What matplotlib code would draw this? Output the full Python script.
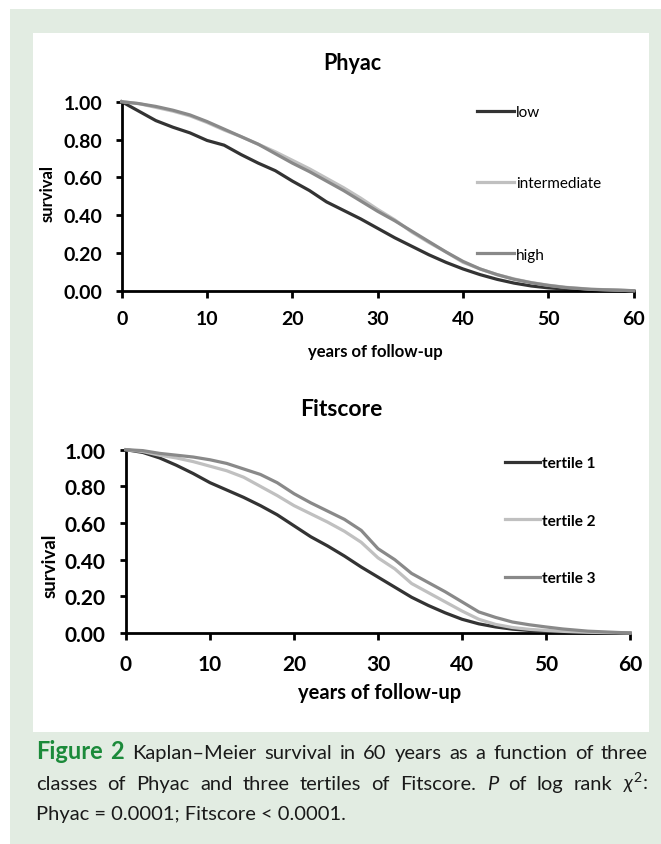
import matplotlib
matplotlib.use("Agg")
import matplotlib.pyplot as plt
from matplotlib.patches import Rectangle

plt.rcParams['font.family'] = ['Lato', 'DejaVu Sans']
plt.rcParams['mathtext.fontset'] = 'custom'
plt.rcParams['mathtext.rm'] = 'Lato'
plt.rcParams['mathtext.it'] = 'Lato:italic'

# ---- data ----
years = [0, 2, 4, 6, 8, 10, 12, 14, 16, 18, 20, 22, 24, 26, 28, 30,
         32, 34, 36, 38, 40, 42, 44, 46, 48, 50, 52, 55, 60]

phyac_labels = ['low', 'intermediate', 'high']
phyac_low = [1.00, 0.95, 0.90, 0.865, 0.835, 0.795, 0.77, 0.72, 0.675, 0.635, 0.58,
             0.53, 0.47, 0.425, 0.38, 0.33, 0.28, 0.235, 0.19, 0.15, 0.115, 0.085,
             0.06, 0.04, 0.025, 0.015, 0.009, 0.004, 0.0]
phyac_int = [1.00, 0.99, 0.97, 0.95, 0.925, 0.89, 0.85, 0.815, 0.775, 0.735, 0.69,
             0.645, 0.595, 0.545, 0.49, 0.43, 0.375, 0.31, 0.255, 0.205, 0.15, 0.115,
             0.085, 0.062, 0.043, 0.029, 0.018, 0.008, 0.0]
phyac_high = [1.00, 0.99, 0.975, 0.955, 0.93, 0.895, 0.855, 0.815, 0.775, 0.725, 0.675,
              0.63, 0.58, 0.53, 0.475, 0.42, 0.37, 0.315, 0.26, 0.205, 0.155, 0.115,
              0.085, 0.06, 0.042, 0.028, 0.017, 0.007, 0.0]

fit_labels = ['tertile 1', 'tertile 2', 'tertile 3']
fit_t1 = [1.00, 0.985, 0.955, 0.915, 0.87, 0.82, 0.78, 0.74, 0.695, 0.645, 0.585,
          0.525, 0.475, 0.42, 0.36, 0.305, 0.25, 0.195, 0.15, 0.11, 0.075, 0.05,
          0.033, 0.021, 0.014, 0.009, 0.006, 0.003, 0.0]
fit_t2 = [1.00, 0.99, 0.97, 0.955, 0.935, 0.91, 0.885, 0.85, 0.80, 0.75, 0.695,
          0.65, 0.605, 0.555, 0.495, 0.41, 0.35, 0.27, 0.22, 0.17, 0.12, 0.075,
          0.047, 0.03, 0.02, 0.014, 0.009, 0.004, 0.0]
fit_t3 = [1.00, 0.995, 0.98, 0.97, 0.96, 0.945, 0.925, 0.895, 0.865, 0.82, 0.76,
          0.71, 0.665, 0.62, 0.56, 0.46, 0.40, 0.325, 0.275, 0.225, 0.17, 0.115,
          0.085, 0.06, 0.045, 0.033, 0.022, 0.01, 0.0]

xticks = [0, 10, 20, 30, 40, 50, 60]
yticks = [0.0, 0.2, 0.4, 0.6, 0.8, 1.0]

colors = ['#333333', '#c0c0c0', '#898989']

W, H = 661, 845
fig = plt.figure(figsize=(W / 100, H / 100), dpi=100)


def fx(px):
    return px / W


def fy(py):
    return 1 - py / H


# page background: green frame with white panel
fig.patches.append(Rectangle((fx(10), 0), 1 - fx(10), fy(10), transform=fig.transFigure,
                             facecolor='#e2ece2', edgecolor='none', zorder=-10))
fig.patches.append(Rectangle((fx(33), fy(733)), fx(649) - fx(33), fy(34) - fy(733),
                             transform=fig.transFigure, facecolor='white',
                             edgecolor='none', zorder=-9))


def style_axes(ax, fs, pad_y, pad_x):
    ax.set_xlim(0, 60)
    ax.set_ylim(0, 1)
    ax.set_facecolor('none')
    for s in ['top', 'right']:
        ax.spines[s].set_visible(False)
    for s in ['left', 'bottom']:
        ax.spines[s].set_linewidth(2.0)
    ax.set_xticks(xticks)
    ax.set_yticks(yticks)
    ax.set_yticklabels([f'{v:.2f}' for v in yticks])
    ax.tick_params(axis='both', direction='out', width=2.0, labelsize=fs)
    ax.tick_params(axis='y', length=4, pad=pad_y)
    ax.tick_params(axis='x', length=5, pad=pad_x)
    for lab in ax.get_xticklabels() + ax.get_yticklabels():
        lab.set_fontweight('bold')


# ---- top: Phyac ----
ax1 = fig.add_axes([fx(121.7), fy(291.7), fx(633.7) - fx(121.7), fy(102.7) - fy(291.7)])
for vals, lab, c in zip([phyac_low, phyac_int, phyac_high], phyac_labels, colors):
    ax1.plot(years, vals, color=c, lw=2.3, label=lab, clip_on=False, zorder=3)
ax1.lines[0].set_zorder(2)
style_axes(ax1, 14, 10, 9)
ax1.legend(loc='upper left', bbox_to_anchor=(fx(477), fy(106)), bbox_transform=fig.transFigure,
           frameon=False, fontsize=11, borderpad=0, borderaxespad=0, handlelength=2.4,
           handletextpad=0.15, labelspacing=3.75)

fig.text(fx(352), fy(64), 'Phyac', ha='center', va='center', fontsize=15.5, fontweight='bold')
fig.text(fx(375), fy(352), 'years of follow-up', ha='center', va='center',
         fontsize=12, fontweight='bold')
fig.text(fx(48), fy(193), 'survival', ha='center', va='center', rotation=90,
         fontsize=12, fontweight='bold')

# ---- bottom: Fitscore ----
ax2 = fig.add_axes([fx(126), fy(634), fx(630) - fx(126), fy(450.7) - fy(634)])
for vals, lab, c in zip([fit_t1, fit_t2, fit_t3], fit_labels, colors):
    ax2.plot(years, vals, color=c, lw=2.3, label=lab, clip_on=False, zorder=3)
style_axes(ax2, 15, 11, 10)
leg2 = ax2.legend(loc='upper left', bbox_to_anchor=(fx(505), fy(457)),
                  bbox_transform=fig.transFigure, frameon=False, fontsize=11,
                  borderpad=0, borderaxespad=0, handlelength=2.3, handletextpad=0.15,
                  labelspacing=2.85)
for t in leg2.get_texts():
    t.set_fontweight('bold')

fig.text(fx(341), fy(409), 'Fitscore', ha='center', va='center', fontsize=16.5, fontweight='bold')
fig.text(fx(380), fy(693), 'years of follow-up', ha='center', va='center',
         fontsize=14.5, fontweight='bold')
fig.text(fx(50), fy(566), 'survival', ha='center', va='center', rotation=90,
         fontsize=13.5, fontweight='bold')

# ---- caption (justified) ----
renderer = fig.canvas.get_renderer()


def justify(words, x0, x1, py):
    texts = []
    for w, kw in words:
        texts.append(fig.text(0, fy(py), w, va='baseline', ha='left', **kw))
    widths = [t.get_window_extent(renderer).width for t in texts]
    gap = (x1 - x0 - sum(widths)) / (len(texts) - 1)
    x = x0
    for t, w in zip(texts, widths):
        t.set_x(fx(x))
        x += w + gap


body = dict(fontsize=14.5, color='#1a1a1a')
green = dict(fontsize=17, fontweight='bold', color='#1b8a3a')
ital = dict(fontsize=14.5, color='#1a1a1a', style='italic')

line1 = [('Figure', green), ('2', green)] + \
    [(w, body) for w in 'Kaplan–Meier survival in 60 years as a function of three'.split()]
line2 = [(w, body) for w in 'classes of Phyac and three tertiles of Fitscore.'.split()] + \
    [('P', ital)] + [(w, body) for w in 'of log rank'.split()] + [(r'$\chi^{2}$:', body)]
justify(line1, 36, 648, 759)
justify(line2, 36, 648, 790)
fig.text(fx(36), fy(820), 'Phyac = 0.0001; Fitscore < 0.0001.', va='baseline', ha='left', **body)

fig.savefig('out.png', dpi=100)
